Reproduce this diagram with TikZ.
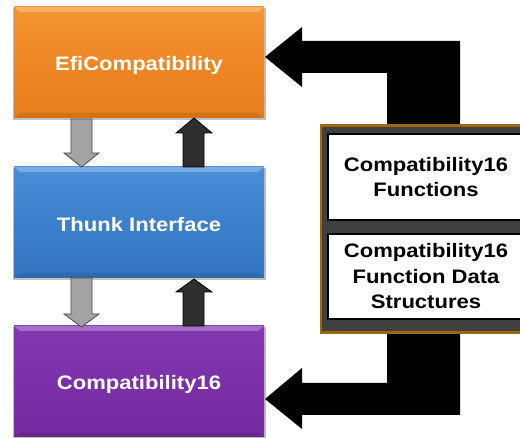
\documentclass[tikz,border=0pt]{standalone}
\usepackage{fontspec}
\setmainfont{Liberation Sans}
\newfontfamily\lblfont[FakeStretch=1.13]{Liberation Sans}
\usetikzlibrary{calc}
\definecolor{orgtop}{HTML}{F39432}
\definecolor{orgmid}{HTML}{EF8725}
\definecolor{orgbot}{HTML}{E67D1C}
\definecolor{blutop}{HTML}{4A8ED8}
\definecolor{blumid}{HTML}{3C80CD}
\definecolor{blubot}{HTML}{3474C0}
\definecolor{purtop}{HTML}{8238B0}
\definecolor{purmid}{HTML}{7B30A9}
\definecolor{purbot}{HTML}{742AA0}
\definecolor{panelgray}{HTML}{404040}
\definecolor{gold}{HTML}{9A6810}
\definecolor{arrgray}{HTML}{A3A3A3}
\definecolor{arrdark}{HTML}{2E2E2E}
\tikzset{
  layerbox/.style={minimum width=250pt, minimum height=111pt, inner sep=0pt,
    text=white, font=\lblfont\bfseries\fontsize{19.5}{24}\selectfont},
  infobox/.style={fill=white, draw=black, line width=2pt, minimum width=196pt,
    inner sep=0pt, align=center, text=black,
    font=\lblfont\bfseries\fontsize{19.5}{25.5}\selectfont},
  downarr/.style={fill=arrgray, draw=black!70, line width=0.8pt},
  uparr/.style={fill=arrdark, draw=black, line width=0.8pt},
  bigarr/.style={fill=black, draw=none}
}
\begin{document}
\begin{tikzpicture}[x=1pt,y=-1pt]
\useasboundingbox (0,0) rectangle (520,438);
\fill[white] (0,0) rectangle (520,438);
% layer boxes
\foreach \nm/\t/\tc/\mc/\bc in {efi/7/orgtop/orgmid/orgbot, thunk/167/blutop/blumid/blubot, c16/326/purtop/purmid/purbot}{
  \fill[black!25] (13,\t+1) rectangle (266,\t+113);
  \shade[top color=\tc, bottom color=\bc, middle color=\mc] (14,\t) rectangle (264,\t+111);
  \fill[\tc!55!white, opacity=0.6] (14,\t) -- (264,\t) -- (258,\t+5) -- (20,\t+5) -- cycle;
  \fill[\bc!80!black, opacity=0.45] (14,\t+111) -- (264,\t+111) -- (258,\t+106) -- (20,\t+106) -- cycle;
}
\node[layerbox] (efi) at (139,65.5) {EfiCompatibility};
\node[layerbox] (thunk) at (139,225) {Thunk Interface};
\node[layerbox] (c16) at (139,384.5) {Compatibility16};
% small block arrows between layers
\draw[downarr] (71,119) -- (92,119) -- (92,153) -- (99,153) -- (81.5,167) -- (64,153) -- (71,153) -- cycle;
\draw[uparr] (183,167) -- (204,167) -- (204,133) -- (212,133) -- (194,118) -- (176,133) -- (183,133) -- cycle;
\draw[downarr] (71,278) -- (92,278) -- (92,314) -- (99,314) -- (81.5,327) -- (64,314) -- (71,314) -- cycle;
\draw[uparr] (183,326) -- (204,326) -- (204,292) -- (212,292) -- (194,279) -- (176,292) -- (183,292) -- cycle;
% big black arrows
\fill[bigarr] (265,57) -- (302,27) -- (302,41) -- (460,41) -- (460,124) -- (387,124) -- (387,73) -- (302,73) -- (302,87) -- cycle;
\fill[bigarr] (265,399) -- (302,368) -- (302,383) -- (387,383) -- (387,331) -- (460,331) -- (460,415) -- (302,415) -- (302,429) -- cycle;
% panel
\node[fill=panelgray, draw=gold, line width=2.5pt, minimum width=214pt, minimum height=207pt, inner sep=0pt, anchor=north west] (panel) at (319.5,124.5) {};
\node[infobox, minimum height=86pt, anchor=north west] (fn) at (327,133) {Compatibility16\\Functions};
\node[infobox, minimum height=85pt, anchor=north west] (fds) at (327,233) {Compatibility16\\Function Data\\Structures};
\end{tikzpicture}
\end{document}
